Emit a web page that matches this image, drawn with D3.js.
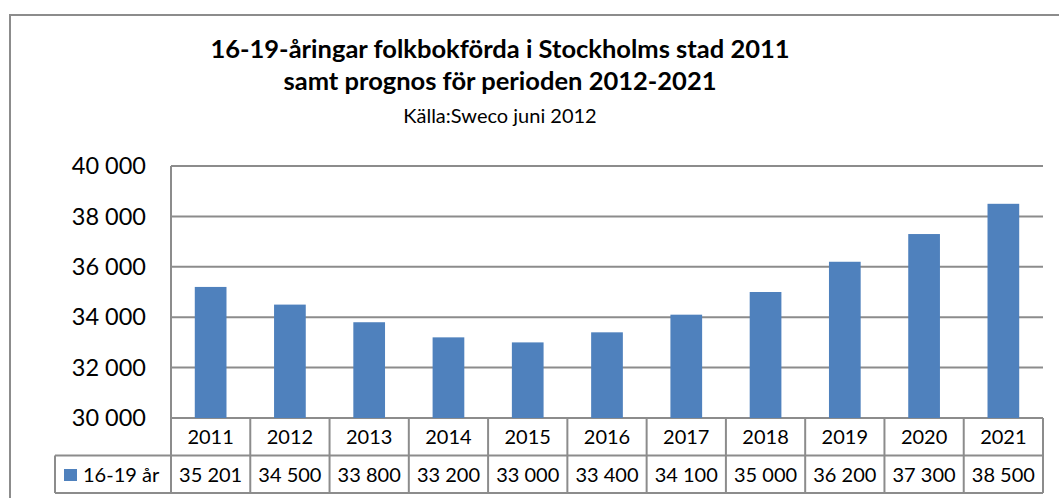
<!DOCTYPE html>
<html>
<head>
<meta charset="utf-8">
<script src="https://cdn.jsdelivr.net/npm/d3@7"></script>
<style>
  body { margin: 0; background: #fff; }
  text { font-family: Lato, "Open Sans", sans-serif; fill: #000; }
  .title { font-weight: bold; font-size: 25.5px; }
  .subtitle { font-size: 20px; }
  .tick-label { font-size: 23.5px; }
  .cell { font-size: 20px; }
</style>
</head>
<body>
<script>
// chart data
const YEARS = ['2011', '2012', '2013', '2014', '2015', '2016', '2017', '2018', '2019', '2020', '2021'];
const VALUES = [35201, 34500, 33800, 33200, 33000, 33400, 34100, 35000, 36200, 37300, 38500];
const SERIES_NAME = '16-19 år';
const Y_TICKS = [30000, 32000, 34000, 36000, 38000, 40000];
const TITLE_LINES = ['16-19-åringar folkbokförda i Stockholms stad 2011', 'samt prognos för perioden 2012-2021'];
const SUBTITLE = 'Källa:Sweco juni 2012';

const DIM = {
    width: 1059,
    height: 498,
    plotLeft: 171,
    plotRight: 1043,
    plotTop: 166,
    plotBottom: 418,
    rowHeight: 37.5,
    legendLeft: 55
};

const BAR_COLOR = '#4F81BD';
const LINE_COLOR = '#8c8c8c';

const fmt = d3.formatLocale({ decimal: ',', thousands: ' ', grouping: [3], currency: ['', ' kr'] }).format(',d');

const svg = d3.select('body').append('svg')
    .attr('width', DIM.width)
    .attr('height', DIM.height);

// outer chart frame (runs off the page on right and bottom)
svg.append('rect')
    .attr('x', 10).attr('y', 15)
    .attr('width', 1100).attr('height', 600)
    .attr('fill', 'none')
    .attr('stroke', LINE_COLOR)
    .attr('stroke-width', 2);

// titles
const titleGroup = svg.append('g').attr('transform', 'translate(500,0)');
titleGroup.selectAll('text.title')
    .data(TITLE_LINES)
    .enter().append('text')
    .attr('class', 'title')
    .attr('text-anchor', 'middle')
    .attr('y', (d, i) => 58 + i * 32)
    .text(d => d);
titleGroup.append('text')
    .attr('class', 'subtitle')
    .attr('text-anchor', 'middle')
    .attr('y', 123)
    .text(SUBTITLE);

// scales
const x = d3.scaleBand()
    .domain(YEARS)
    .range([DIM.plotLeft, DIM.plotRight])
    .paddingInner(0.6)
    .paddingOuter(0.3);

const xCell = d3.scaleBand()
    .domain(YEARS)
    .range([DIM.plotLeft, DIM.plotRight]);

const y = d3.scaleLinear()
    .domain([Y_TICKS[0], Y_TICKS[Y_TICKS.length - 1]])
    .range([DIM.plotBottom, DIM.plotTop]);

// gridlines
svg.append('g').attr('class', 'grid')
    .selectAll('line')
    .data(Y_TICKS)
    .enter().append('line')
    .attr('x1', DIM.plotLeft).attr('x2', DIM.plotRight)
    .attr('y1', d => y(d)).attr('y2', d => y(d))
    .attr('stroke', LINE_COLOR)
    .attr('stroke-width', 2);

// y tick labels
svg.append('g').attr('class', 'y-axis')
    .selectAll('text')
    .data(Y_TICKS)
    .enter().append('text')
    .attr('class', 'tick-label')
    .attr('x', 146)
    .attr('y', d => y(d))
    .attr('dy', '0.35em')
    .attr('text-anchor', 'end')
    .text(d => fmt(d));

// bars
svg.append('g').attr('class', 'bars')
    .selectAll('rect')
    .data(VALUES)
    .enter().append('rect')
    .attr('x', (d, i) => x(YEARS[i]))
    .attr('y', d => y(d))
    .attr('width', x.bandwidth())
    .attr('height', d => y(Y_TICKS[0]) - y(d))
    .attr('fill', BAR_COLOR);

// data table under the chart
const row1Top = DIM.plotBottom;
const row2Top = row1Top + DIM.rowHeight;
const row2Bottom = row2Top + DIM.rowHeight;

const table = svg.append('g').attr('class', 'table');

// vertical lines at category boundaries
const boundaries = YEARS.map(d => xCell(d)).concat([DIM.plotRight]);
table.selectAll('line.v')
    .data(boundaries)
    .enter().append('line')
    .attr('class', 'v')
    .attr('x1', d => d).attr('x2', d => d)
    .attr('y1', (d, i) => (i === 0 ? DIM.plotTop : row1Top))
    .attr('y2', row2Bottom)
    .attr('stroke', LINE_COLOR)
    .attr('stroke-width', 2);

// horizontal lines of the table
table.append('line')
    .attr('x1', DIM.legendLeft).attr('x2', DIM.plotRight)
    .attr('y1', row2Top).attr('y2', row2Top)
    .attr('stroke', LINE_COLOR).attr('stroke-width', 2);
table.append('line')
    .attr('x1', DIM.legendLeft).attr('x2', DIM.plotRight)
    .attr('y1', row2Bottom).attr('y2', row2Bottom)
    .attr('stroke', LINE_COLOR).attr('stroke-width', 2);
table.append('line')
    .attr('x1', DIM.legendLeft).attr('x2', DIM.legendLeft)
    .attr('y1', row2Top).attr('y2', row2Bottom)
    .attr('stroke', LINE_COLOR).attr('stroke-width', 2);

// year labels
table.selectAll('text.year')
    .data(YEARS)
    .enter().append('text')
    .attr('class', 'cell year')
    .attr('text-anchor', 'middle')
    .attr('x', d => xCell(d) + xCell.bandwidth() / 2)
    .attr('y', row1Top + 26)
    .text(d => d);

// value labels
table.selectAll('text.value')
    .data(VALUES)
    .enter().append('text')
    .attr('class', 'cell value')
    .attr('text-anchor', 'middle')
    .attr('x', (d, i) => xCell(YEARS[i]) + xCell.bandwidth() / 2)
    .attr('y', row2Top + 26)
    .text(d => fmt(d));

// legend key in the table
table.append('rect')
    .attr('x', 64).attr('y', 469)
    .attr('width', 13).attr('height', 12)
    .attr('fill', BAR_COLOR);
table.append('text')
    .attr('class', 'cell')
    .attr('x', 83)
    .attr('y', row2Top + 26)
    .text(SERIES_NAME);
</script>
</body>
</html>
